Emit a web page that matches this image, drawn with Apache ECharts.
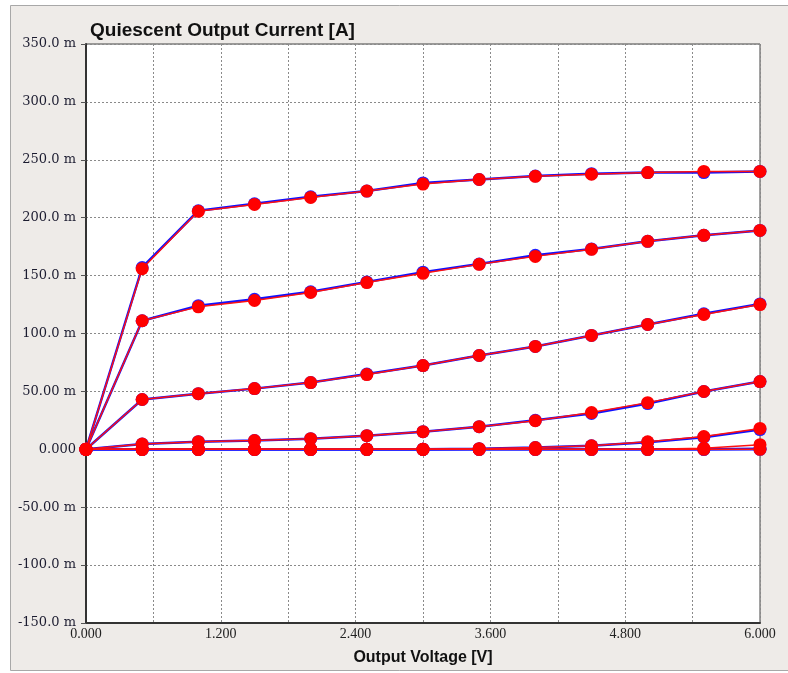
<!DOCTYPE html>
<html>
<head>
<meta charset="utf-8">
<script src="https://cdn.jsdelivr.net/npm/echarts@6/dist/echarts.min.js"></script>
<style>
html,body{margin:0;padding:0;background:#ffffff;}
#chart{width:788px;height:673px;}
</style>
</head>
<body>
<div id="chart"></div>
<script>
// Output voltage [V]
var xValues = [0, 0.5, 1.0, 1.5, 2.0, 2.5, 3.0, 3.5, 4.0, 4.5, 5.0, 5.5, 6.0];

// Measured curves (red), current in mA
var red1 = [0, 156, 205.5, 211.5, 217.5, 223, 229, 233, 235.7, 237.5, 239, 240, 240];
var red2 = [0, 111, 123, 128.5, 135.5, 144, 152, 159.7, 166.6, 172.7, 179.6, 184.8, 189];
var red3 = [0, 43, 48, 52.4, 57.6, 64.5, 72.3, 81, 88.8, 98.3, 107.8, 116.5, 125];
var red4 = [0, 4.5, 6.6, 7.5, 9.2, 11.8, 15.2, 19.5, 24.7, 31.7, 40.3, 49.9, 58.5];
var red5 = [0, 0, 0, 0, 0, 0, 0, 0.5, 1.5, 3, 6.5, 11, 18];
var red6 = [0, 0, 0, 0, 0, 0, 0, 0, 0, 0, 0, 1, 4];
var red7 = [0, 0, 0, 0, 0, 0, 0, 0, 0, 0, 0, 0, 0];

// Simulated curves (blue), current in mA
var blue1 = [0, 157, 206, 212, 218, 223, 230, 233, 236, 238, 239, 239, 240];
var blue2 = [0, 111, 124, 129.5, 136, 144.5, 153, 160, 167.5, 173, 179.6, 184.8, 189];
var blue3 = [0, 43, 48, 52.4, 57.6, 65, 72.3, 81, 88.8, 98.3, 107.8, 117, 125.5];
var blue4 = [0, 4.5, 6.6, 7.5, 9.2, 11.8, 15.2, 19.5, 25, 31, 39.5, 49.9, 58.5];
var blue5 = [0, 0, 0, 0, 0, 0, 0, 0.5, 1.5, 3, 6, 10.5, 17];
var blue6 = [0, 0, 0, 0, 0, 0, 0, 0, 0, 0, 0, 0, 0.5];
var blue7 = [0, 0, 0, 0, 0, 0, 0, 0, 0, 0, 0, 0, 0];

var xTickLabels = ['0.000', '1.200', '2.400', '3.600', '4.800', '6.000'];
var yTickLabels = ['-150.0 m', '-100.0 m', '-50.00 m', '0.000', '50.00 m', '100.0 m', '150.0 m', '200.0 m', '250.0 m', '300.0 m', '350.0 m'];

function pairs(arr) {
  return xValues.map(function (x, i) { return [x, arr[i]]; });
}

var blueSets = [blue1, blue2, blue3, blue4, blue5, blue6, blue7];
var redSets = [red1, red2, red3, red4, red5, red6, red7];

var series = [];
blueSets.forEach(function (s, i) {
  series.push({
    name: 'sim' + (i + 1), type: 'line', data: pairs(s),
    symbol: 'circle', symbolSize: 13, showSymbol: true,
    lineStyle: { color: '#1010ff', width: 2.5 },
    itemStyle: { color: '#2020ff' },
    z: 2, animation: false, silent: true
  });
});
redSets.forEach(function (s, i) {
  series.push({
    name: 'meas' + (i + 1), type: 'line', data: pairs(s),
    symbol: 'circle', symbolSize: 13, showSymbol: true,
    lineStyle: { color: '#ff1010', width: 1.5 },
    itemStyle: { color: '#ff0000' },
    z: 3, animation: false, silent: true
  });
});

var chart = echarts.init(document.getElementById('chart'), null, { renderer: 'canvas' });
chart.setOption({
  backgroundColor: '#ffffff',
  animation: false,
  graphic: [
    { type: 'rect', z: -10, shape: { x: 10.5, y: 5.5, width: 800, height: 665 },
      style: { fill: '#eeebe8', stroke: '#a8a8a8', lineWidth: 1 } }
  ],
  title: {
    text: 'Quiescent Output Current [A]',
    left: 85, top: 16,
    textStyle: { fontFamily: 'Liberation Sans', fontWeight: 'bold', fontSize: 19, color: '#111' }
  },
  grid: {
    left: 86, right: 28, top: 44, bottom: 50,
    show: true, backgroundColor: '#ffffff', borderColor: '#444', borderWidth: 1
  },
  xAxis: {
    type: 'value', min: 0, max: 6, interval: 0.6,
    name: 'Output Voltage [V]', nameLocation: 'middle', nameGap: 27,
    nameTextStyle: { fontFamily: 'Liberation Sans', fontWeight: 'bold', fontSize: 16, color: '#111' },
    axisLine: { show: true, onZero: false, lineStyle: { color: '#333', width: 2 } },
    axisTick: { show: false },
    axisLabel: {
      fontFamily: 'Liberation Serif', fontSize: 14, color: '#222', margin: 4,
      formatter: function (v, idx) {
        var k = Math.round(v / 1.2 * 1000) / 1000;
        if (Math.abs(k - Math.round(k)) < 1e-6) { return xTickLabels[Math.round(k)]; }
        return '';
      }
    },
    splitLine: { show: true, lineStyle: { color: '#8a8a8a', type: [2, 2], width: 1 } }
  },
  yAxis: {
    type: 'value', min: -150, max: 350, interval: 50,
    axisLine: { show: true, onZero: false, lineStyle: { color: '#333', width: 2 } },
    axisTick: { show: true, length: 5, lineStyle: { color: '#555' } },
    axisLabel: {
      fontFamily: 'DejaVu Serif', fontSize: 13, color: '#1c1c30', margin: 10,
      formatter: function (v) {
        var i = Math.round((v + 150) / 50);
        return yTickLabels[i];
      }
    },
    splitLine: { show: true, lineStyle: { color: '#8a8a8a', type: [2, 2], width: 1 } }
  },
  series: series
});
</script>
</body>
</html>
